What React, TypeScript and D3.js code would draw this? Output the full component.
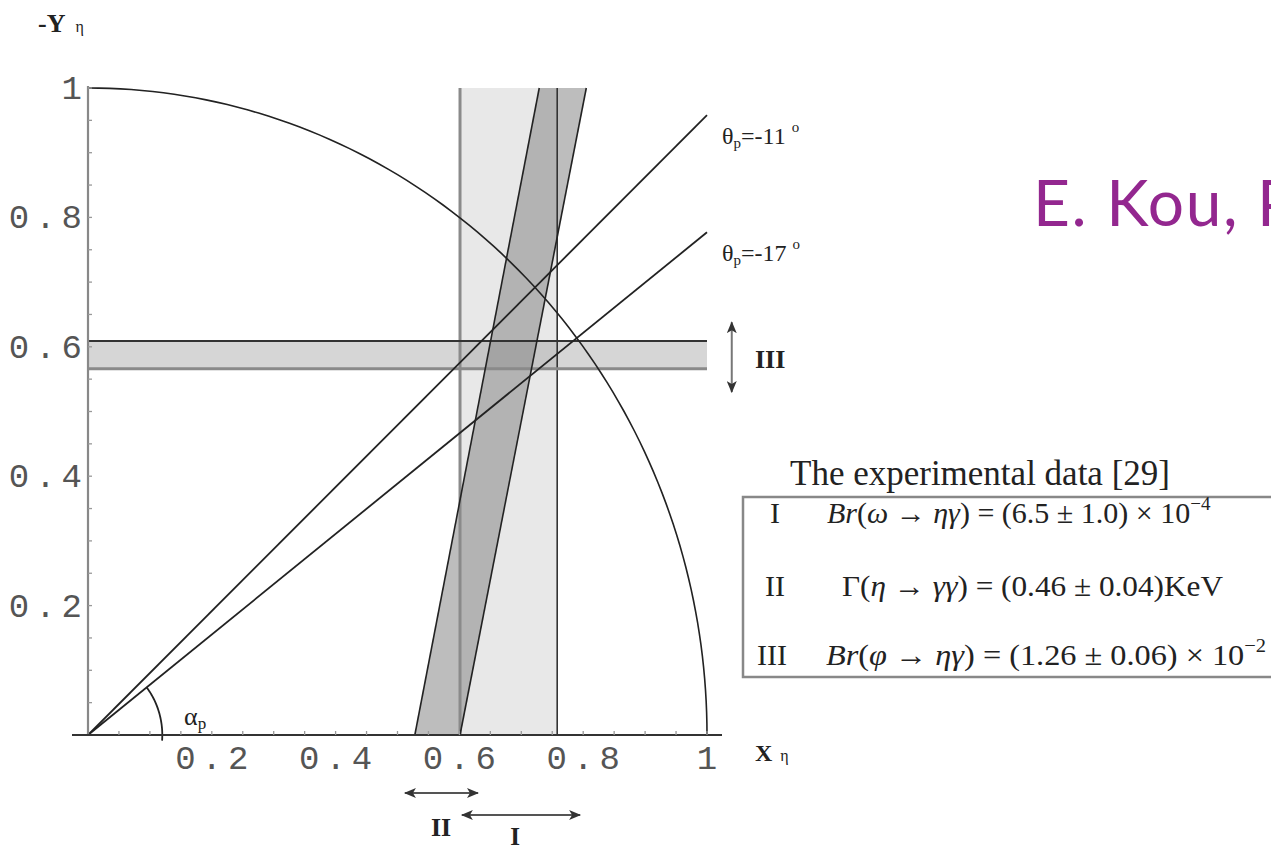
import React from "react";
import * as d3 from "d3";

// Constraint bands in the (X_eta, -Y_eta) plane
const bandI: [number, number] = [0.601, 0.758]; // vertical band, X range
const bandIII: [number, number] = [0.566, 0.609]; // horizontal band, Y range
const bandIILeft: [number, number][] = [[0.528, 0], [0.729, 1]];
const bandIIRight: [number, number][] = [[0.601, 0], [0.805, 1]];

// Mixing-angle lines through the origin
const thetaValues = ["-11", "-17"];
const thetaEndY = [0.958, 0.777]; // Y at X = 1

// Range arrows below / beside the plot
const arrowII: [number, number] = [0.512, 0.63];
const arrowI: [number, number] = [0.604, 0.795];
const arrowIII: [number, number] = [0.53, 0.638];

// Axis ticks
const majorTicks = [0.2, 0.4, 0.6, 0.8, 1];
const tickText = ["0.2", "0.4", "0.6", "0.8", "1"];
const minorTicks = d3.range(1, 21).map((i) => i * 0.05);

// Experimental inputs
const dataLabels = ["I", "II", "III"];
const brOmega = ["6.5", "1.0", "−4"];
const gammaEta = ["0.46", "0.04"];
const brPhi = ["1.26", "0.06", "−2"];

const W = 1271;
const H = 851;

const x = d3.scaleLinear().domain([0, 1]).range([88, 707]);
const y = d3.scaleLinear().domain([0, 1]).range([735, 88]);

const lineGen = d3.line<[number, number]>().x((d) => x(d[0])).y((d) => y(d[1]));

const rad = (deg: number) => (deg * Math.PI) / 180;
const circlePts: [number, number][] = d3
  .range(0, 91)
  .map((deg) => [Math.cos(rad(deg)), Math.sin(rad(deg))]);

const alphaStart = (Math.atan(thetaEndY[1]) * 180) / Math.PI;
const alphaPts: [number, number][] = d3
  .range(alphaStart, -4.5, -1)
  .map((deg) => [0.12 * Math.cos(rad(deg)), 0.12 * Math.sin(rad(deg))]);

const serif = "'Liberation Serif', 'DejaVu Serif', serif";
const mono = "'Liberation Mono', 'DejaVu Sans Mono', monospace";

export default function App() {
  const bandIIPoly: [number, number][] = [
    bandIILeft[0],
    bandIIRight[0],
    bandIIRight[1],
    bandIILeft[1],
  ];
  const LS = 6;
  return (
    <svg
      width={W}
      height={H}
      viewBox={`0 0 ${W} ${H}`}
      style={{ position: "absolute", left: 0, top: 0, background: "#fff" }}
    >
      <defs>
        <marker
          id="head"
          viewBox="0 0 12 10"
          refX="11"
          refY="5"
          markerWidth="12"
          markerHeight="10"
          markerUnits="userSpaceOnUse"
          orient="auto-start-reverse"
        >
          <path d="M0,0 L12,5 L0,10 L3,5 Z" fill="#333" />
        </marker>
      </defs>

      {/* band I */}
      <rect
        x={x(bandI[0])}
        y={y(1)}
        width={x(bandI[1]) - x(bandI[0])}
        height={y(0) - y(1)}
        fill="#e8e8e8"
      />
      {/* band III */}
      <rect
        x={x(0)}
        y={y(bandIII[1])}
        width={x(1) - x(0)}
        height={y(bandIII[0]) - y(bandIII[1])}
        fill="#8a8a8a"
        fillOpacity={0.35}
      />
      {/* band II */}
      <path d={lineGen(bandIIPoly) + "Z"} fill="#8a8a8a" fillOpacity={0.56} />

      {/* band edges */}
      <line x1={x(bandI[0])} x2={x(bandI[0])} y1={y(1)} y2={y(0)} stroke="#8a8a8a" strokeWidth={3} />
      <line x1={x(bandI[1])} x2={x(bandI[1])} y1={y(1)} y2={y(0)} stroke="#333" strokeWidth={1.6} />
      <line x1={x(0)} x2={x(1)} y1={y(bandIII[1])} y2={y(bandIII[1])} stroke="#333" strokeWidth={2} />
      <line x1={x(0)} x2={x(1)} y1={y(bandIII[0])} y2={y(bandIII[0])} stroke="#8a8a8a" strokeWidth={3} />
      <path d={lineGen(bandIILeft) ?? ""} stroke="#222" strokeWidth={1.6} fill="none" />
      <path d={lineGen(bandIIRight) ?? ""} stroke="#222" strokeWidth={1.6} fill="none" />

      {/* unit circle */}
      <path d={lineGen(circlePts) ?? ""} stroke="#222" strokeWidth={1.6} fill="none" />

      {/* theta lines */}
      {thetaEndY.map((ty, i) => (
        <g key={i}>
          <line x1={x(0)} y1={y(0)} x2={x(1)} y2={y(ty)} stroke="#222" strokeWidth={1.8} />
          <text x={722} y={y(ty) + 29} fontFamily={serif} fontSize={24} fill="#222">
            θ
            <tspan fontSize={15} dy={4}>p</tspan>
            <tspan dy={-4}>={thetaValues[i]}</tspan>
            <tspan fontSize={15} dx={6} dy={-12}>o</tspan>
          </text>
        </g>
      ))}

      {/* alpha arc */}
      <path d={lineGen(alphaPts) ?? ""} stroke="#222" strokeWidth={1.8} fill="none" />
      <text x={184} y={725} fontFamily={serif} fontSize={26} fill="#222">
        α<tspan fontSize={17} dy={4}>p</tspan>
      </text>

      {/* axes */}
      <line x1={x(0)} x2={x(0)} y1={y(1) - 2} y2={y(0)} stroke="#888" strokeWidth={2.2} />
      <line x1={72} x2={722} y1={y(0)} y2={y(0)} stroke="#333" strokeWidth={2.2} />
      {minorTicks.map((t, i) => (
        <g key={i}>
          <line x1={x(t)} x2={x(t)} y1={y(0)} y2={y(0) - 4} stroke="#999" strokeWidth={1.3} />
          <line x1={x(0)} x2={x(0) + 4} y1={y(t)} y2={y(t)} stroke="#999" strokeWidth={1.3} />
        </g>
      ))}
      {majorTicks.map((t, i) => (
        <g key={i} fontFamily={mono} fontSize={34} fill="#555">
          <text x={x(t) + LS / 2} y={y(0) + 34} textAnchor="middle" letterSpacing={LS}>
            {tickText[i]}
          </text>
          <text x={82 + LS} y={y(t) + 11} textAnchor="end" letterSpacing={LS}>
            {tickText[i]}
          </text>
        </g>
      ))}

      {/* axis titles */}
      <text x={38} y={32} fontFamily={serif} fontSize={26} fontWeight="bold" fill="#222">
        -Y
        <tspan fontSize={16} fontWeight="normal" dx={10}>η</tspan>
      </text>
      <text x={755} y={761} fontFamily={serif} fontSize={24} fontWeight="bold" fill="#222">
        X
        <tspan fontSize={16} fontWeight="normal" dx={8}>η</tspan>
      </text>

      {/* range arrows */}
      <line x1={x(arrowII[0])} x2={x(arrowII[1])} y1={793} y2={793} stroke="#555" strokeWidth={2}
        markerStart="url(#head)" markerEnd="url(#head)" />
      <line x1={x(arrowI[0])} x2={x(arrowI[1])} y1={815} y2={815} stroke="#555" strokeWidth={2}
        markerStart="url(#head)" markerEnd="url(#head)" />
      <line x1={x(1.04)} x2={x(1.04)} y1={y(arrowIII[1])} y2={y(arrowIII[0])} stroke="#777" strokeWidth={2}
        markerStart="url(#head)" markerEnd="url(#head)" />
      <text x={441} y={836} textAnchor="middle" fontFamily={serif} fontSize={26} fontWeight="bold" fill="#222">
        {dataLabels[1]}
      </text>
      <text x={515} y={845} textAnchor="middle" fontFamily={serif} fontSize={25} fontWeight="bold" fill="#222">
        {dataLabels[0]}
      </text>
      <text x={755} y={368} fontFamily={serif} fontSize={26} fontWeight="bold" fill="#222">
        {dataLabels[2]}
      </text>

      {/* experimental data table */}
      <text x={790} y={485} fontFamily={serif} fontSize={35} fill="#222">
        The experimental data [29]
      </text>
      <rect x={743} y={497} width={600} height={180} fill="none" stroke="#888" strokeWidth={2.5} />
      <g fontFamily={serif} fontSize={30} fill="#222">
        <text x={775} y={523} textAnchor="middle">{dataLabels[0]}</text>
        <text x={827} y={523}>
          <tspan fontStyle="italic">Br</tspan>(<tspan fontStyle="italic">ω</tspan> → <tspan fontStyle="italic">ηγ</tspan>) = ({brOmega[0]} ± {brOmega[1]}) × 10
          <tspan fontSize={19} dy={-13}>{brOmega[2]}</tspan>
        </text>
        <text x={775} y={596} textAnchor="middle">{dataLabels[1]}</text>
        <text x={842} y={596} textLength={381} lengthAdjust="spacingAndGlyphs">
          Γ(<tspan fontStyle="italic">η</tspan> → <tspan fontStyle="italic">γγ</tspan>) = ({gammaEta[0]} ± {gammaEta[1]})KeV
        </text>
        <text x={772} y={665} textAnchor="middle">{dataLabels[2]}</text>
        <text x={826} y={665} textLength={440} lengthAdjust="spacingAndGlyphs">
          <tspan fontStyle="italic">Br</tspan>(<tspan fontStyle="italic">φ</tspan> → <tspan fontStyle="italic">ηγ</tspan>) = ({brPhi[0]} ± {brPhi[1]}) × 10
          <tspan fontSize={19} dy={-13}>{brPhi[2]}</tspan>
        </text>
      </g>

      {/* citation */}
      <text x={1033} y={226} fontFamily="Lato, 'Open Sans', sans-serif" fontSize={64} letterSpacing={1.6} fill="#93278f">
        E. Kou, Phys. Rev. D 63, 054027
      </text>
    </svg>
  );
}
